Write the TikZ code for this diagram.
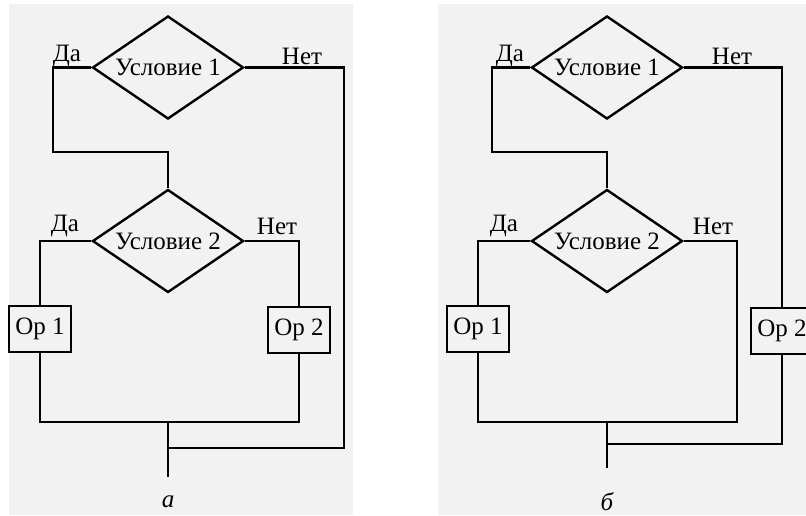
\documentclass[tikz,border=0pt]{standalone}
\usepackage{fontspec}
\setmainfont{Liberation Serif}
\usetikzlibrary{shapes.geometric}
\definecolor{paper}{HTML}{F2F2F2}
\begin{document}
\begin{tikzpicture}[x=1pt,y=-1pt,
  every node/.style={font=\fontsize{25}{29}\selectfont},
  cond/.style={draw, diamond, line width=2.4pt, inner sep=0pt, aspect=1.47,
               minimum width=151pt, minimum height=103pt},
  opbox/.style={draw, rectangle, line width=2.4pt, inner sep=0pt,
                minimum width=62pt, minimum height=46pt},
  lbl/.style={inner sep=0pt},
  sublabel/.style={inner sep=0pt, font=\fontsize{25}{29}\selectfont\itshape},
  wire/.style={line width=2.4pt, line join=miter}]
\useasboundingbox (0,0) rectangle (806,515);
\clip (0,0) rectangle (806,515);
% page backgrounds
\fill[paper] (9,4) rectangle (353,515);
\fill[paper] (438,4) rectangle (806,515);

% ---------- left scheme (a) ----------
\node[cond] (c1) at (168,67.5) {Условие 1};
\node[cond] (c2) at (168,241) {Условие 2};
\node[opbox] (o1) at (40,329) {Ор 1};
\node[opbox] (o2) at (299,330) {Ор 2};
\node[lbl] (y1) at (67,56) {Да};
\node[lbl] (n1) at (302,56) {Нет};
\node[lbl] (y2) at (65,226) {Да};
\node[lbl] (n2) at (277,226) {Нет};
\node[sublabel] (la) at (168,502) {а};
\coordinate (ab) at (53,152);
\coordinate (ar) at (344,448);
\coordinate (aj) at (168,448);
\coordinate (am) at (168,422);
\coordinate (ae) at (168,477);
\draw[wire] (c1.west) -| (ab) -| (c2.north);
\draw[wire] (c1.east) -| (ar) -- (aj);
\draw[wire] (c2.west) -| (o1.north);
\draw[wire] (c2.east) -| (o2.north);
\draw[wire] (o1.south) |- (am) -| (o2.south);
\draw[wire] (am) -- (ae);

% ---------- right scheme (b) ----------
\node[cond] (d1) at (607,67.5) {Условие 1};
\node[cond] (d2) at (607,241) {Условие 2};
\node[opbox] (q1) at (478,329) {Ор 1};
\node[opbox] (q2) at (782,331) {Ор 2};
\node[lbl] (y3) at (510,56) {Да};
\node[lbl] (n3) at (732,56) {Нет};
\node[lbl] (y4) at (504,226) {Да};
\node[lbl] (n4) at (713,226) {Нет};
\node[sublabel] (lb) at (607,502) {б};
\coordinate (bb) at (492,152);
\coordinate (br) at (737,422);
\coordinate (bm) at (607,422);
\coordinate (bj) at (607,444);
\coordinate (be) at (607,468);
\draw[wire] (d1.west) -| (bb) -| (d2.north);
\draw[wire] (d1.east) -| (q2.north);
\draw[wire] (d2.west) -| (q1.north);
\draw[wire] (d2.east) -| (br) -- (bm);
\draw[wire] (q1.south) |- (bm);
\draw[wire] (q2.south) |- (bj);
\draw[wire] (bm) -- (be);
\end{tikzpicture}
\end{document}
